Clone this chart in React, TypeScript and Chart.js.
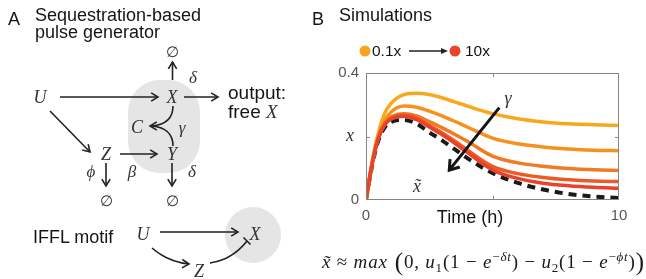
import React, { useEffect, useRef } from 'react';
import { Chart, registerables } from 'chart.js';

Chart.register(...registerables);

// ---------- data ----------
const timeH = [0, 0.25, 0.5, 0.75, 1, 1.5, 2, 2.5, 3, 3.5, 4, 5, 6, 7, 8, 9, 10];
const gamma01x = [0, 0.125, 0.215, 0.275, 0.305, 0.332, 0.336, 0.332, 0.322, 0.309, 0.296, 0.272, 0.256, 0.246, 0.240, 0.237, 0.235];
const gamma03x = [0, 0.12, 0.205, 0.252, 0.278, 0.296, 0.292, 0.280, 0.265, 0.248, 0.230, 0.195, 0.177, 0.167, 0.161, 0.157, 0.155];
const gamma1x = [0, 0.118, 0.2, 0.243, 0.262, 0.272, 0.265, 0.247, 0.228, 0.207, 0.185, 0.138, 0.117, 0.106, 0.099, 0.095, 0.093];
const gamma3x = [0, 0.117, 0.198, 0.24, 0.258, 0.268, 0.258, 0.235, 0.212, 0.186, 0.158, 0.106, 0.083, 0.071, 0.064, 0.060, 0.058];
const gamma10x = [0, 0.116, 0.196, 0.237, 0.255, 0.264, 0.253, 0.230, 0.206, 0.179, 0.150, 0.095, 0.068, 0.053, 0.045, 0.040, 0.037];
const approxX = [0, 0.112, 0.19, 0.23, 0.246, 0.252, 0.24, 0.213, 0.188, 0.16, 0.132, 0.085, 0.054, 0.033, 0.019, 0.011, 0.006];
const seriesValues = [gamma01x, gamma03x, gamma1x, gamma3x, gamma10x];
const seriesColors = ['#F8A81D', '#F6911F', '#F27A23', '#EC5B26', '#E7432A'];
const xTickLabels: Record<number, string> = { 0: '0', 5: '', 10: '10' };
const yTickLabels = ['0', '', '0.4'];
const gammaArrowFrom = [5.27, 0.291];
const gammaArrowTo = [3.29, 0.094];
const gammaLabelAt = [5.61, 0.318];
const approxLabelAt = [2.02, 0.041];

const SANS = '"Liberation Sans", Arial, sans-serif';
const SERIF = '"Liberation Serif", "DejaVu Serif", serif';

const CANVAS_LEFT = 310;

const overlayPlugin = {
  id: 'overlay',
  afterDatasetsDraw(chart: any) {
    const { ctx, chartArea: a, scales } = chart;
    const x = scales.x;
    const y = scales.y;
    ctx.save();
    ctx.strokeStyle = '#858585';
    ctx.lineWidth = 1;
    ctx.strokeRect(a.left + 0.5, a.top + 0.5, a.right - a.left - 1, a.bottom - a.top - 1);
    const seg = (x1: number, y1: number, x2: number, y2: number) => {
      ctx.beginPath();
      ctx.moveTo(x1, y1);
      ctx.lineTo(x2, y2);
      ctx.stroke();
    };
    const xm = Math.round(x.getPixelForValue(5)) + 0.5;
    seg(xm, a.top, xm, a.top + 4);
    seg(xm, a.bottom, xm, a.bottom - 4);
    const ym = Math.round(y.getPixelForValue(0.2)) + 0.5;
    seg(a.left, ym, a.left + 4, ym);
    seg(a.right, ym, a.right - 4, ym);

    // gamma arrow
    const x1 = x.getPixelForValue(gammaArrowFrom[0]);
    const y1 = y.getPixelForValue(gammaArrowFrom[1]);
    const x2 = x.getPixelForValue(gammaArrowTo[0]);
    const y2 = y.getPixelForValue(gammaArrowTo[1]);
    ctx.strokeStyle = '#151515';
    ctx.lineWidth = 3;
    ctx.lineCap = 'butt';
    seg(x1, y1, x2, y2);
    const ang = Math.atan2(y2 - y1, x2 - x1);
    const L = 11;
    const sp = 0.6;
    ctx.beginPath();
    ctx.moveTo(x2 - L * Math.cos(ang - sp), y2 - L * Math.sin(ang - sp));
    ctx.lineTo(x2, y2);
    ctx.lineTo(x2 - L * Math.cos(ang + sp), y2 - L * Math.sin(ang + sp));
    ctx.lineJoin = 'miter';
    ctx.stroke();

    ctx.fillStyle = '#333';
    ctx.textAlign = 'center';
    ctx.textBaseline = 'middle';
    ctx.font = `italic 18px ${SERIF}`;
    ctx.fillText('γ', x.getPixelForValue(gammaLabelAt[0]), y.getPixelForValue(gammaLabelAt[1]));
    ctx.fillText('x\u0303', x.getPixelForValue(approxLabelAt[0]), y.getPixelForValue(approxLabelAt[1]));
    ctx.fillText('x', a.left - 16, ym - 1);
    ctx.restore();
  },
};

function SimChart() {
  const ref = useRef<HTMLCanvasElement | null>(null);
  useEffect(() => {
    if (!ref.current) return;
    const datasets: any[] = seriesValues.map((vals, i) => ({
      data: timeH.map((t, k) => ({ x: t, y: vals[k] })),
      borderColor: seriesColors[i],
      borderWidth: 3.5,
      pointRadius: 0,
      cubicInterpolationMode: 'monotone',
      fill: false,
    }));
    datasets.reverse();
    datasets.push({
      data: timeH.map((t, k) => ({ x: t, y: approxX[k] })),
      borderColor: '#1a1a1a',
      borderWidth: 4,
      borderDash: [8, 6],
      pointRadius: 0,
      cubicInterpolationMode: 'monotone',
      fill: false,
    });
    const chart = new Chart(ref.current, {
      type: 'line',
      data: { datasets },
      plugins: [overlayPlugin],
      options: {
        animation: false,
        responsive: false,
        maintainAspectRatio: false,
        layout: { padding: { left: 0, top: 73, right: 27, bottom: 0 } },
        plugins: { legend: { display: false }, tooltip: { enabled: false } },
        scales: {
          x: {
            type: 'linear',
            min: 0,
            max: 10,
            grid: { display: false, drawTicks: false },
            border: { display: false },
            ticks: {
              stepSize: 5,
              padding: 7,
              maxRotation: 0,
              autoSkip: false,
              color: '#555',
              font: { family: SANS, size: 15 },
              callback: (v: any) => xTickLabels[v] ?? '',
            },
            afterFit: (s: any) => {
              s.height = 79;
            },
          },
          y: {
            min: 0,
            max: 0.4,
            grid: { display: false, drawTicks: false },
            border: { display: false },
            ticks: {
              stepSize: 0.2,
              padding: 7,
              color: '#555',
              font: { family: SANS, size: 15 },
              callback: (v: any, i: number) => yTickLabels[i] ?? '',
            },
            afterFit: (s: any) => {
              s.width = 366 - CANVAS_LEFT;
            },
          },
        },
      } as any,
    });
    return () => chart.destroy();
  }, []);
  return (
    <canvas
      ref={ref}
      width={646 - CANVAS_LEFT}
      height={279}
      style={{ position: 'absolute', left: CANVAS_LEFT, top: 0, width: 646 - CANVAS_LEFT, height: 279 }}
    />
  );
}

function head(x: number, y: number, ang: number, L = 8, sp = 0.55) {
  const p1 = [x - L * Math.cos(ang - sp), y - L * Math.sin(ang - sp)];
  const p2 = [x - L * Math.cos(ang + sp), y - L * Math.sin(ang + sp)];
  return `M${p1[0]},${p1[1]} L${x},${y} L${p2[0]},${p2[1]}`;
}

function Arrow({ x1, y1, x2, y2 }: { x1: number; y1: number; x2: number; y2: number }) {
  const ang = Math.atan2(y2 - y1, x2 - x1);
  return (
    <g stroke="#222" strokeWidth={1.6} fill="none">
      <line x1={x1} y1={y1} x2={x2} y2={y2} />
      <path d={head(x2, y2, ang)} />
    </g>
  );
}

function M({ x, y, children, size = 18 }: any) {
  return (
    <text x={x} y={y} fontFamily={SERIF} fontStyle="italic" fontSize={size} fill="#333" textAnchor="middle">
      {children}
    </text>
  );
}

function Overlay() {
  const sans = { fontFamily: SANS, fill: '#151515' } as any;
  const sub = 13;
  return (
    <svg
      width={646}
      height={279}
      style={{ position: 'absolute', left: 0, top: 0, pointerEvents: 'none' }}
    >
      {/* Panel A */}
      <text x={8} y={25} fontSize={18} {...sans}>A</text>
      <text x={35} y={21} fontSize={18} {...sans}>Sequestration-based</text>
      <text x={35} y={38} fontSize={18} {...sans}>pulse generator</text>
      <rect x={128} y={80} width={72} height={93} rx={32} fill="#e5e5e5" />
      <text x={172} y={57} fontFamily='"DejaVu Serif", serif' fontSize={15} fill="#333" textAnchor="middle">∅</text>
      <Arrow x1={172.5} y1={80} x2={172.5} y2={62} />
      <M x={193} y={83} size={17}>δ</M>
      <M x={40} y={103}>U</M>
      <Arrow x1={60} y1={97} x2={158} y2={97} />
      <M x={172} y={103}>X</M>
      <Arrow x1={184} y1={97} x2={218} y2={97} />
      <text x={228} y={99} fontSize={19} {...sans}>output:</text>
      <text x={228} y={118} fontSize={19} {...sans}>
        free <tspan fontFamily={SERIF} fontStyle="italic" fill="#333">X</tspan>
      </text>
      <g stroke="#222" strokeWidth={1.6} fill="none">
        <path d="M173,106 Q173,124 152,126" />
        <path d="M173,146 Q173,128 152,126" />
        <path d={head(150, 126, Math.PI)} />
      </g>
      <M x={137} y={133}>C</M>
      <M x={182} y={133} size={17}>γ</M>
      <Arrow x1={50} y1={111} x2={90} y2={152} />
      <M x={106} y={160}>Z</M>
      <Arrow x1={120} y1={154} x2={157} y2={154} />
      <M x={172} y={160}>Y</M>
      <M x={91} y={177} size={17}>ϕ</M>
      <M x={132} y={177} size={17}>β</M>
      <M x={192} y={177} size={17}>δ</M>
      <Arrow x1={106} y1={163} x2={106} y2={186} />
      <Arrow x1={172} y1={163} x2={172} y2={186} />
      <text x={106} y={206} fontFamily='"DejaVu Serif", serif' fontSize={15} fill="#333" textAnchor="middle">∅</text>
      <text x={172} y={206} fontFamily='"DejaVu Serif", serif' fontSize={15} fill="#333" textAnchor="middle">∅</text>

      {/* IFFL */}
      <text x={33} y={243} fontSize={18} {...sans}>IFFL motif</text>
      <circle cx={253} cy={235} r={28} fill="#e5e5e5" />
      <M x={143} y={240}>U</M>
      <Arrow x1={160} y1={232} x2={238} y2={232} />
      <M x={255} y={240}>X</M>
      <g stroke="#222" strokeWidth={1.6} fill="none">
        <path d="M152,248 Q168,262 189,264" />
        <path d={head(189, 264, 0.05)} />
        <path d="M210,263 Q232,260 247,241" />
        <line x1={243.5} y1={237.5} x2={250.5} y2={244.5} />
      </g>
      <M x={199} y={277}>Z</M>

      {/* Panel B */}
      <text x={312} y={25} fontSize={18} {...sans}>B</text>
      <text x={339} y={21} fontSize={18} {...sans}>Simulations</text>
      <circle cx={365} cy={51} r={5.5} fill="#F7A520" />
      <text x={372} y={56} fontSize={15.5} {...sans}>0.1x</text>
      <line x1={409} y1={51} x2={442} y2={51} stroke="#222" strokeWidth={1.5} />
      <path d="M441,48 L448,51 L441,54 Z" fill="#222" />
      <circle cx={455} cy={51} r={5.5} fill="#E8462B" />
      <text x={465} y={56} fontSize={15.5} {...sans}>10x</text>
      <text x={470} y={223} fontSize={18} textAnchor="middle" {...sans}>Time (h)</text>

      {/* Equation */}
      <text
        x={322}
        y={268}
        fontFamily={SERIF}
        fontSize={19}
        fill="#1a1a1a"
        textLength={322}
        lengthAdjust="spacing"
        style={{ whiteSpace: 'pre' }}
      >
        <tspan fontStyle="italic">{'x\u0303'}</tspan>
        <tspan>{' ≈ '}</tspan>
        <tspan fontStyle="italic">{'max'}</tspan>
        <tspan fontSize={25} dy={2}>{' ('}</tspan>
        <tspan dy={-2}>{'0, '}</tspan>
        <tspan fontStyle="italic">{'u'}</tspan>
        <tspan fontSize={sub} dy={4}>{'1'}</tspan>
        <tspan dy={-4}>{'(1 − '}</tspan>
        <tspan fontStyle="italic">{'e'}</tspan>
        <tspan fontSize={sub} dy={-7}>{'−'}</tspan>
        <tspan fontSize={sub} fontStyle="italic">{'δt'}</tspan>
        <tspan dy={7}>{') − '}</tspan>
        <tspan fontStyle="italic">{'u'}</tspan>
        <tspan fontSize={sub} dy={4}>{'2'}</tspan>
        <tspan dy={-4}>{'(1 − '}</tspan>
        <tspan fontStyle="italic">{'e'}</tspan>
        <tspan fontSize={sub} dy={-7}>{'−'}</tspan>
        <tspan fontSize={sub} fontStyle="italic">{'ϕt'}</tspan>
        <tspan dy={7}>{')'}</tspan>
        <tspan fontSize={25} dy={2}>{')'}</tspan>
      </text>
    </svg>
  );
}

export default function App() {
  return (
    <div style={{ position: 'absolute', left: 0, top: 0, width: 646, height: 279, background: '#fff', overflow: 'hidden' }}>
      <SimChart />
      <Overlay />
    </div>
  );
}
